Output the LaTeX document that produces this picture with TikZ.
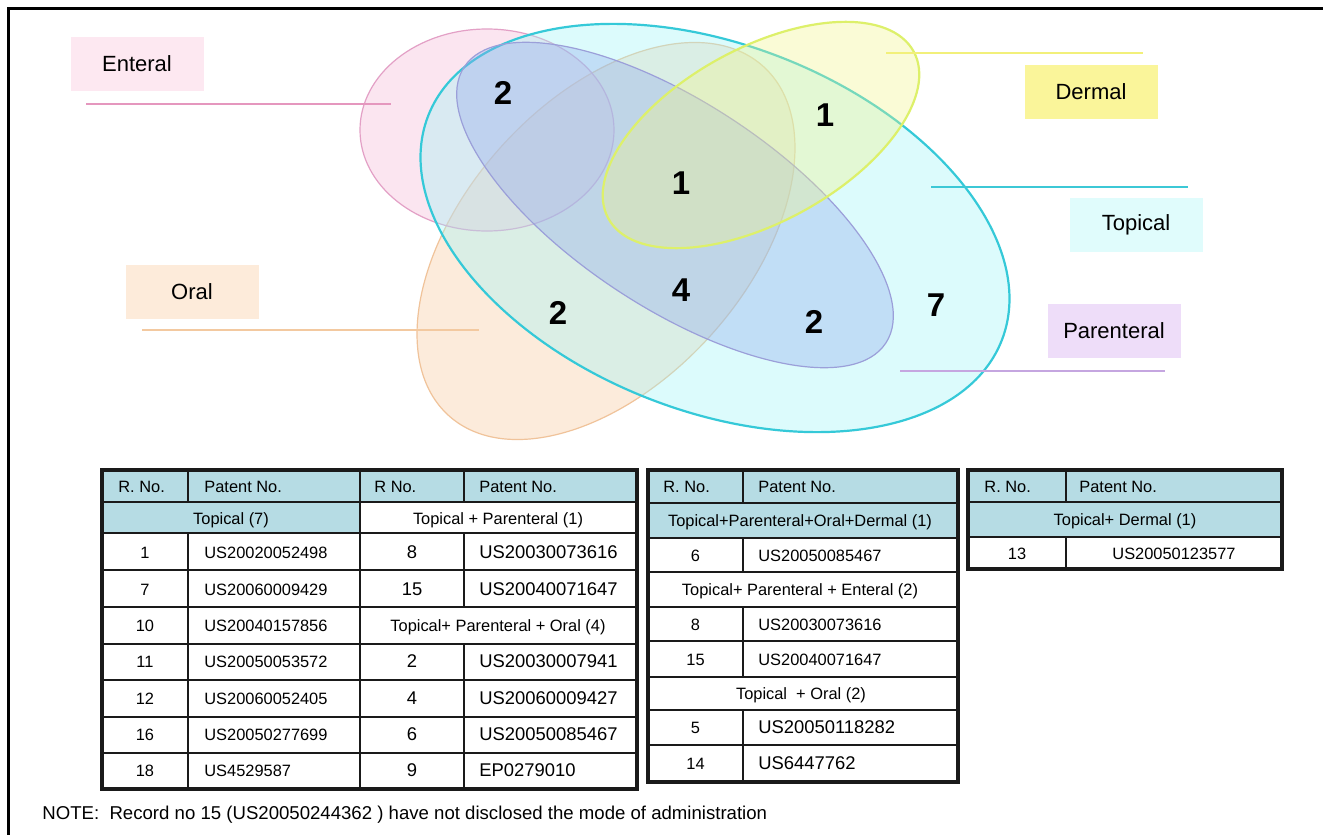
\documentclass[tikz,border=0pt]{standalone}
\usepackage{fontspec}
\setmainfont{Liberation Sans}
\usetikzlibrary{shapes.geometric}
\definecolor{orfill}{HTML}{F9C79A}
\definecolor{ordraw}{HTML}{F0C39A}
\definecolor{entfill}{HTML}{F5B7D5}
\definecolor{entdraw}{HTML}{E3A0C6}
\definecolor{topfill}{HTML}{9BF5F8}
\definecolor{topdraw}{HTML}{35C9D8}
\definecolor{parfill}{HTML}{8FA8EC}
\definecolor{pardraw}{HTML}{9B9FD9}
\definecolor{derfill}{HTML}{F2F58A}
\definecolor{derdraw}{HTML}{DDF06A}
\definecolor{entbox}{HTML}{FDE8F1}
\definecolor{orbox}{HTML}{FDEBDA}
\definecolor{derbox}{HTML}{FAF59A}
\definecolor{topbox}{HTML}{E0FCFC}
\definecolor{parbox}{HTML}{EEDDF9}
\definecolor{entline}{HTML}{E597BE}
\definecolor{orline}{HTML}{F3C9A0}
\definecolor{derline}{HTML}{F2F07A}
\definecolor{topline}{HTML}{3CC8D6}
\definecolor{parline}{HTML}{C5A6E0}
\definecolor{hdr}{HTML}{B6DCE4}
\definecolor{gridc}{HTML}{1A1A1A}
\tikzset{
  setshape/.style={ellipse, inner sep=0pt, outer sep=0pt, fill opacity=0.35, draw opacity=1},
  labbox/.style={rectangle, inner sep=0pt, minimum width=66.5pt, minimum height=27pt, font=\fontsize{11}{13}\selectfont},
  num/.style={font=\fontsize{16.5}{18}\selectfont\bfseries},
  keyline/.style={line width=0.8pt},
  frameline/.style={line width=1.5pt, black},
  gridline/.style={line width=1pt, gridc},
  outerline/.style={line width=1.6pt, gridc},
  tbase/.style={inner sep=0pt, text height=6pt, text depth=0pt},
  hd/.style={tbase, anchor=west, font=\fontsize{8.2}{9}\selectfont},
  sm/.style={tbase, font=\fontsize{8.2}{9}\selectfont},
  smw/.style={tbase, anchor=west, font=\fontsize{8.2}{9}\selectfont},
  bg/.style={tbase, font=\fontsize{9.2}{10}\selectfont},
  bgw/.style={tbase, anchor=west, font=\fontsize{9.2}{10}\selectfont},
}
\begin{document}
\begin{tikzpicture}[x=0.5pt,y=-0.5pt]
\useasboundingbox (0,0) rectangle (1323,835);
\fill[white] (0,0) rectangle (1323,835);
% frame
\coordinate (fTL) at (8,8);
\coordinate (fTR) at (1325,8);
\coordinate (fBL) at (8,837);
\draw[frameline] (fTR) -- (fTL) -- (fBL);

% sets
\node[setshape, draw=ordraw, line width=0.6pt, fill=orfill, minimum width=235pt, minimum height=141pt, rotate=48] (oral) at (606,241) {};
\node[setshape, draw=entdraw, line width=0.6pt, fill=entfill, minimum width=127pt, minimum height=101pt] (enteral) at (487,130) {};
\node[setshape, draw=topdraw, line width=1.1pt, fill=topfill, minimum width=308pt, minimum height=183pt, rotate=-21.4] (topical) at (715,228) {};
\node[setshape, draw=pardraw, line width=0.6pt, fill=parfill, minimum width=252pt, minimum height=103pt, rotate=-33.2] (parenteral) at (675,205) {};
\node[setshape, draw=derdraw, line width=1.1pt, fill=derfill, minimum width=174pt, minimum height=87pt, rotate=28.7] (dermal) at (761,135) {};

% counts
\node[num] (c1) at (503,93) {2};
\node[num] (c2) at (825,115) {1};
\node[num] (c3) at (681,183) {1};
\node[num] (c4) at (681,290) {4};
\node[num] (c5) at (558,313) {2};
\node[num] (c6) at (814,322) {2};
\node[num] (c7) at (936,305) {7};

% legend boxes
\node[labbox, fill=entbox] (lEnt) at (137,64) {Enteral};
\node[labbox, fill=orbox] (lOr) at (192,292) {Oral};
\node[labbox, fill=derbox] (lDer) at (1091,92) {Dermal};
\node[labbox, fill=topbox] (lTop) at (1136,225) {Topical};
\node[labbox, fill=parbox] (lPar) at (1114,331) {Parenteral};

% legend lines
\coordinate (eA) at (86,104);  \coordinate (eB) at (391,104);
\coordinate (oA) at (142,330); \coordinate (oB) at (479,330);
\coordinate (dA) at (886,53);  \coordinate (dB) at (1143,53);
\coordinate (tA) at (931,187); \coordinate (tB) at (1188,187);
\coordinate (pA) at (900,371); \coordinate (pB) at (1165,371);
\draw[keyline, entline] (eA) -- (eB);
\draw[keyline, orline] (oA) -- (oB);
\draw[keyline, derline] (dA) -- (dB);
\draw[keyline, topline] (tA) -- (tB);
\draw[keyline, parline] (pA) -- (pB);

% ===== Table 1 =====
\fill[hdr] (102,470) rectangle (637,502);
\fill[hdr] (102,502) rectangle (360,533);
\foreach \yy in {502,533,570,607,644,680,717,753} \draw[gridline] (102,\yy) -- (637,\yy);
\draw[gridline] (188,470) -- (188,502);
\draw[gridline] (188,533) -- (188,789);
\draw[gridline] (360,470) -- (360,789);
\draw[gridline] (464,470) -- (464,502);
\draw[gridline] (464,533) -- (464,607);
\draw[gridline] (464,644) -- (464,789);
\draw[outerline] (102,470) rectangle (637,789);

\node[hd] (a-h1) at (118,486) {R. No.};
\node[hd] (a-h2) at (204,486) {Patent No.};
\node[hd] (a-h3) at (374,486) {R No.};
\node[hd] (a-h4) at (479,486) {Patent No.};
\node[sm] (a-s1) at (231,518) {Topical (7)};
\node[sm] (a-s2) at (498,518) {Topical + Parenteral (1)};
\node[sm] (a-r1c1) at (145,552) {1};
\node[smw] (a-r1c2) at (204,552) {US20020052498};
\node[sm] (a-r2c1) at (145,589) {7};
\node[smw] (a-r2c2) at (204,589) {US20060009429};
\node[sm] (a-r3c1) at (145,625) {10};
\node[smw] (a-r3c2) at (204,625) {US20040157856};
\node[sm] (a-r4c1) at (145,661) {11};
\node[smw] (a-r4c2) at (204,661) {US20050053572};
\node[sm] (a-r5c1) at (145,698) {12};
\node[smw] (a-r5c2) at (204,698) {US20060052405};
\node[sm] (a-r6c1) at (145,734) {16};
\node[smw] (a-r6c2) at (204,734) {US20050277699};
\node[sm] (a-r7c1) at (145,770) {18};
\node[smw] (a-r7c2) at (204,770) {US4529587};
\node[bg] (a-r1c3) at (412,552) {8};
\node[bgw] (a-r1c4) at (479,552) {US20030073616};
\node[bg] (a-r2c3) at (412,589) {15};
\node[bgw] (a-r2c4) at (479,589) {US20040071647};
\node[sm] (a-s3) at (498,625) {Topical+ Parenteral + Oral (4)};
\node[bg] (a-r4c3) at (412,661) {2};
\node[bgw] (a-r4c4) at (479,661) {US20030007941};
\node[bg] (a-r5c3) at (412,698) {4};
\node[bgw] (a-r5c4) at (479,698) {US20060009427};
\node[bg] (a-r6c3) at (412,734) {6};
\node[bgw] (a-r6c4) at (479,734) {US20050085467};
\node[bg] (a-r7c3) at (412,770) {9};
\node[bgw] (a-r7c4) at (479,770) {EP0279010};

% ===== Table 2 =====
\fill[hdr] (648,470) rectangle (958,538);
\foreach \yy in {503,538,572,607,641,677,710,745} \draw[gridline] (648,\yy) -- (958,\yy);
\draw[gridline] (743,470) -- (743,503);
\draw[gridline] (743,538) -- (743,572);
\draw[gridline] (743,607) -- (743,677);
\draw[gridline] (743,710) -- (743,782);
\draw[outerline] (648,470) rectangle (958,782);

\node[hd] (b-h1) at (663,486.5) {R. No.};
\node[hd] (b-h2) at (758,486.5) {Patent No.};
\node[sm] (b-s1) at (800,520.5) {Topical+Parenteral+Oral+Dermal (1)};
\node[sm] (b-r1c1) at (695.5,555) {6};
\node[smw] (b-r1c2) at (758,555) {US20050085467};
\node[sm] (b-s2) at (800,589.5) {Topical+ Parenteral + Enteral (2)};
\node[sm] (b-r2c1) at (695.5,624) {8};
\node[smw] (b-r2c2) at (758,624) {US20030073616};
\node[sm] (b-r3c1) at (695.5,659) {15};
\node[smw] (b-r3c2) at (758,659) {US20040071647};
\node[sm] (b-s3) at (801,693.5) {Topical\ \ + Oral (2)};
\node[sm] (b-r4c1) at (695.5,727.5) {5};
\node[bgw] (b-r4c2) at (758,727.5) {US20050118282};
\node[sm] (b-r5c1) at (695.5,763.5) {14};
\node[bgw] (b-r5c2) at (758,763.5) {US6447762};

% ===== Table 3 =====
\fill[hdr] (968,470) rectangle (1282,537);
\foreach \yy in {502,537} \draw[gridline] (968,\yy) -- (1282,\yy);
\draw[gridline] (1066,470) -- (1066,502);
\draw[gridline] (1066,537) -- (1066,569);
\draw[outerline] (968,470) rectangle (1282,569);

\node[hd] (c-h1) at (984,486) {R. No.};
\node[hd] (c-h2) at (1079,486) {Patent No.};
\node[sm] (c-s1) at (1125,519.5) {Topical+ Dermal (1)};
\node[sm] (c-r1c1) at (1017,553) {13};
\node[sm] (c-r1c2) at (1174,553) {US20050123577};

% note
\node[anchor=west, inner sep=0pt, font=\fontsize{9.3}{11}\selectfont] (note) at (42,815) {NOTE:\ \ Record no 15 (US20050244362 ) have not disclosed the mode of administration};
\end{tikzpicture}
\end{document}
